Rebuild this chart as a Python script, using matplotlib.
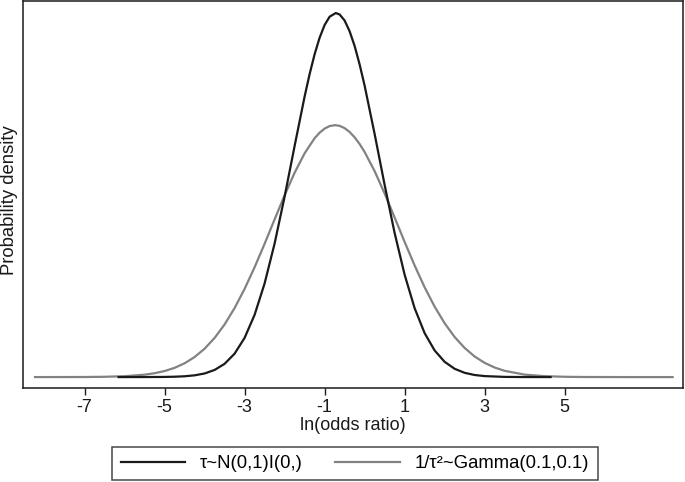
import matplotlib
matplotlib.use("Agg")
import matplotlib.pyplot as plt

plt.rcParams['font.family'] = ['Liberation Sans', 'DejaVu Sans']

# densities (peak of the black curve = 1)
x_black = [-6.15, -5.5, -5.0, -4.75, -4.5, -4.25, -4.0, -3.75, -3.5, -3.25, -3.0,
           -2.75, -2.5, -2.25, -2.0, -1.75, -1.5, -1.375, -1.25, -1.125, -1.0, -0.875,
           -0.72, -0.625, -0.5, -0.375, -0.25, -0.125,
           0.0, 0.25, 0.5, 0.75, 1.0, 1.25, 1.5, 1.75, 2.0, 2.25, 2.5, 2.75, 3.0,
           3.5, 4.0, 4.65]
y_black = [0.0, 0.0001, 0.0004, 0.001, 0.0022, 0.0048, 0.0099, 0.0196, 0.0364, 0.0643, 0.1077,
           0.171, 0.2572, 0.3667, 0.4955, 0.6346, 0.7704, 0.832, 0.8866, 0.932, 0.967, 0.9898,
           1.0, 0.996, 0.9795, 0.950, 0.9097, 0.859,
           0.8008, 0.6681, 0.5284, 0.3961, 0.2814, 0.1895, 0.1209, 0.0732, 0.042, 0.0228, 0.0117, 0.0057, 0.0027,
           0.0005, 0.0001, 0.0]

x_gray = [-8.24, -7.5, -7.0, -6.5, -6.0, -5.5, -5.25, -5.0, -4.75, -4.5, -4.25, -4.0,
          -3.75, -3.5, -3.25, -3.0, -2.75, -2.5, -2.25, -2.0, -1.75, -1.5, -1.25, -1.125,
          -1.0, -0.875, -0.74, -0.625, -0.5, -0.375, -0.25, -0.125, 0.0, 0.25, 0.5, 0.75,
          1.0, 1.25, 1.5, 1.75, 2.0, 2.25, 2.5, 2.75, 3.0, 3.25, 3.5, 4.0, 4.5, 5.0,
          5.5, 6.0, 6.5, 7.7]
y_gray = [0.0, 0.0001, 0.0002, 0.0008, 0.0024, 0.0066, 0.0106, 0.0166, 0.0254, 0.0379, 0.0551, 0.0779,
          0.1075, 0.1446, 0.1896, 0.2423, 0.3017, 0.3661, 0.4331, 0.4994, 0.5612, 0.6146, 0.656, 0.6712,
          0.6825, 0.6894, 0.692, 0.6901, 0.6838, 0.6733, 0.6587, 0.6403, 0.6184, 0.5658, 0.5045, 0.4385,
          0.3715, 0.3067, 0.2468, 0.1936, 0.148, 0.1102, 0.0801, 0.0566, 0.0391, 0.0263, 0.0172, 0.0068, 0.0025, 0.0008,
          0.0002, 0.0001, 0.0, 0.0]

xticks = [-7, -5, -3, -1, 1, 3, 5]
labels = ["\u03c4~N(0,1)I(0,)", "1/\u03c4\u00b2~Gamma(0.1,0.1)"]

fig = plt.figure(figsize=(6.85, 4.82), dpi=100)
ax = fig.add_axes([23 / 685, 94 / 482, 660 / 685, 387 / 482])

l2, = ax.plot(x_gray, y_gray, color='#828282', lw=1.6, zorder=2)
l1, = ax.plot(x_black, y_black, color='#1a1a1a', lw=1.6, zorder=3)

ax.set_xlim(-8.54, 7.96)
ax.set_ylim(-0.030, 1.033)
ax.set_yticks([])
ax.set_xticks(xticks)
ax.set_xticklabels([str(t) for t in xticks])
ax.tick_params(axis='x', direction='out', length=5, width=1, pad=3, labelsize=13, colors='#1a1a1a')
for s in ax.spines.values():
    s.set_linewidth(1.1)
    s.set_color('#1a1a1a')

ax.set_xlabel("ln(odds ratio)", fontsize=13, labelpad=1, color='#1a1a1a')
fig.text(10 / 685, 1 - 200 / 482, "Probability density", rotation=90,
         ha='center', va='center', fontsize=13.3, color='#1a1a1a')

leg = fig.legend([l1, l2], labels, ncol=2, loc='center',
                 bbox_to_anchor=(355 / 685, 1 - 463.5 / 482), frameon=True,
                 fancybox=False, fontsize=13.3, handlelength=3.5, columnspacing=1.75,
                 handletextpad=0.8, borderpad=0.45, borderaxespad=0)
leg.get_frame().set_edgecolor('#1a1a1a')
leg.get_frame().set_linewidth(1.1)

fig.savefig("out.png", dpi=100)
